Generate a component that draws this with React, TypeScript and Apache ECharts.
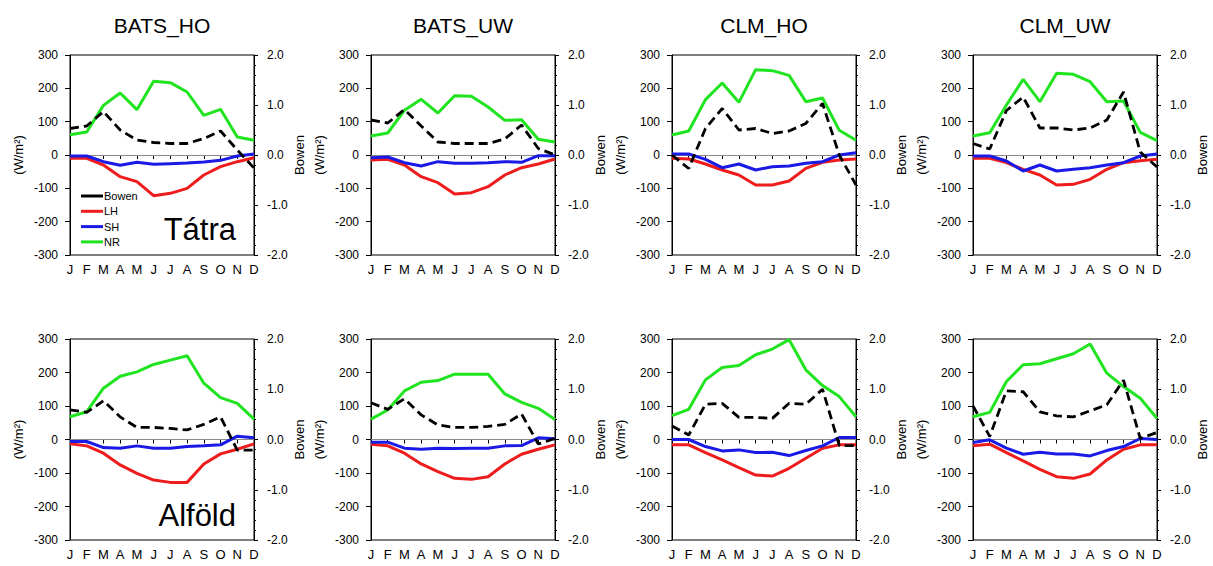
import React, { useEffect, useRef } from "react";
import * as echarts from "echarts";

const monthKeys = ["Jan", "Feb", "Mar", "Apr", "May", "Jun", "Jul", "Aug", "Sep", "Oct", "Nov", "Dec"];
const monthLabels = ["J", "F", "M", "A", "M", "J", "J", "A", "S", "O", "N", "D"];
const panelTitles = ["BATS_HO", "BATS_UW", "CLM_HO", "CLM_UW"];
const regionLabels = ["Tátra", "Alföld"];
const seriesNames = ["Bowen", "LH", "SH", "NR"];

// Tátra, BATS_HO
const tatraBatsHoNR = [61, 69, 149, 186, 136, 221, 217, 189, 119, 137, 54, 44];
const tatraBatsHoLH = [-10, -10, -30, -65, -80, -122, -115, -100, -60, -35, -20, -8];
const tatraBatsHoSH = [-3, -3, -20, -31, -22, -28, -26, -24, -21, -16, -3, 3];
const tatraBatsHoBowen = [0.53, 0.58, 0.87, 0.5, 0.3, 0.25, 0.23, 0.23, 0.33, 0.48, 0.1, -0.26];
// Tátra, BATS_UW
const tatraBatsUwNR = [57, 66, 134, 167, 126, 178, 176, 144, 104, 106, 47, 39];
const tatraBatsUwLH = [-15, -13, -30, -65, -83, -117, -113, -95, -60, -38, -27, -12];
const tatraBatsUwSH = [-8, -6, -23, -33, -20, -25, -25, -23, -20, -22, -2, -2];
const tatraBatsUwBowen = [0.7, 0.64, 0.91, 0.58, 0.26, 0.23, 0.23, 0.23, 0.32, 0.6, 0.13, 0.0];
// Tátra, CLM_HO
const tatraClmHoNR = [60, 72, 166, 216, 158, 256, 253, 239, 160, 171, 74, 44];
const tatraClmHoLH = [-10, -12, -27, -45, -60, -90, -90, -78, -40, -22, -15, -12];
const tatraClmHoSH = [3, 3, -13, -38, -27, -45, -35, -33, -25, -20, 0, 7];
const tatraClmHoBowen = [0.0, -0.27, 0.53, 0.93, 0.5, 0.53, 0.43, 0.48, 0.63, 1.03, 0.0, -0.6];
// Tátra, CLM_UW
const tatraClmUwNR = [57, 67, 150, 227, 160, 245, 242, 220, 160, 162, 68, 43];
const tatraClmUwLH = [-10, -10, -23, -43, -60, -90, -88, -73, -43, -23, -17, -13];
const tatraClmUwSH = [-3, -3, -18, -48, -30, -48, -43, -38, -30, -23, -3, 3];
const tatraClmUwBowen = [0.23, 0.12, 0.89, 1.16, 0.54, 0.54, 0.5, 0.54, 0.7, 1.26, 0.06, -0.24];
// Alföld, BATS_HO
const alfoldBatsHoNR = [68, 83, 153, 189, 202, 224, 237, 250, 168, 125, 108, 61];
const alfoldBatsHoLH = [-13, -19, -41, -76, -101, -121, -128, -128, -73, -43, -29, -13];
const alfoldBatsHoSH = [-6, -6, -24, -26, -19, -26, -26, -21, -19, -16, 10, 5];
const alfoldBatsHoBowen = [0.59, 0.54, 0.77, 0.45, 0.24, 0.24, 0.22, 0.19, 0.3, 0.45, -0.21, -0.21];
// Alföld, BATS_UW
const alfoldBatsUwNR = [61, 88, 145, 171, 176, 195, 195, 195, 136, 111, 93, 60];
const alfoldBatsUwLH = [-14, -19, -41, -73, -96, -116, -119, -111, -73, -44, -29, -16];
const alfoldBatsUwSH = [-8, -8, -26, -29, -26, -27, -26, -26, -19, -18, 5, 2];
const alfoldBatsUwBowen = [0.73, 0.6, 0.81, 0.49, 0.29, 0.24, 0.24, 0.26, 0.3, 0.51, -0.09, 0.02];
// Alföld, CLM_HO
const alfoldClmHoNR = [71, 90, 178, 215, 221, 253, 270, 298, 208, 161, 128, 68];
const alfoldClmHoLH = [-16, -16, -39, -61, -84, -106, -109, -86, -56, -26, -16, -16];
const alfoldClmHoSH = [0, 0, -21, -34, -31, -39, -38, -48, -33, -19, 6, 6];
const alfoldClmHoBowen = [0.27, 0.09, 0.7, 0.72, 0.44, 0.44, 0.42, 0.72, 0.7, 1.0, -0.12, -0.12];
// Alföld, CLM_UW
const alfoldClmUwNR = [68, 81, 173, 223, 226, 241, 256, 285, 198, 158, 123, 63];
const alfoldClmUwLH = [-19, -14, -39, -64, -89, -111, -116, -103, -61, -29, -16, -16];
const alfoldClmUwSH = [-9, -1, -26, -44, -38, -43, -43, -49, -33, -21, 3, 0];
const alfoldClmUwBowen = [0.67, 0.06, 0.97, 0.95, 0.55, 0.47, 0.45, 0.57, 0.69, 1.18, 0.02, 0.14];

const panels = [
  { nr: tatraBatsHoNR, lh: tatraBatsHoLH, sh: tatraBatsHoSH, bowen: tatraBatsHoBowen },
  { nr: tatraBatsUwNR, lh: tatraBatsUwLH, sh: tatraBatsUwSH, bowen: tatraBatsUwBowen },
  { nr: tatraClmHoNR, lh: tatraClmHoLH, sh: tatraClmHoSH, bowen: tatraClmHoBowen },
  { nr: tatraClmUwNR, lh: tatraClmUwLH, sh: tatraClmUwSH, bowen: tatraClmUwBowen },
  { nr: alfoldBatsHoNR, lh: alfoldBatsHoLH, sh: alfoldBatsHoSH, bowen: alfoldBatsHoBowen },
  { nr: alfoldBatsUwNR, lh: alfoldBatsUwLH, sh: alfoldBatsUwSH, bowen: alfoldBatsUwBowen },
  { nr: alfoldClmHoNR, lh: alfoldClmHoLH, sh: alfoldClmHoSH, bowen: alfoldClmHoBowen },
  { nr: alfoldClmUwNR, lh: alfoldClmUwLH, sh: alfoldClmUwSH, bowen: alfoldClmUwBowen },
];

const FONT = "'Liberation Sans', Arial, Helvetica, sans-serif";
const GREEN = "#1fe41f";
const RED = "#ee1c1c";
const BLUE = "#1a1ae6";
const BLACK = "#000000";

const gridLefts = [70, 371, 672, 973];
const gridTops = [55, 339];
const gridW = 184;
const gridHs = [200, 201];

export default function App() {
  const ref = useRef<HTMLDivElement>(null);

  useEffect(() => {
    document.body.style.margin = "0";
    if (!ref.current) return;
    const chart = echarts.init(ref.current, null, { renderer: "svg" });

    const grids: any[] = [];
    const xAxes: any[] = [];
    const yAxes: any[] = [];
    const series: any[] = [];

    panels.forEach((p, i) => {
      const row = Math.floor(i / 4);
      const col = i % 4;
      grids.push({
        left: gridLefts[col],
        top: gridTops[row],
        width: gridW,
        height: gridHs[row],
        show: true,
        borderColor: "#000",
        borderWidth: 1,
        backgroundColor: "transparent",
      });
      xAxes.push({
        type: "category",
        gridIndex: i,
        data: monthKeys,
        boundaryGap: false,
        axisLine: { lineStyle: { color: "#000", width: 1 } },
        axisTick: { show: true, length: 4, lineStyle: { color: "#000" } },
        axisLabel: {
          color: "#000",
          fontFamily: FONT,
          fontSize: 13,
          margin: 8,
          interval: 0,
          formatter: (_v: string, idx: number) => monthLabels[idx],
        },
        splitLine: { show: false },
      });
      yAxes.push({
        type: "value",
        gridIndex: i,
        position: "left",
        min: -300,
        max: 300,
        interval: 100,
        name: "(W/m²)",
        nameLocation: "middle",
        nameGap: 45,
        nameTextStyle: { color: "#000", fontFamily: FONT, fontSize: 13 },
        axisLine: { show: true, lineStyle: { color: "#000", width: 1 } },
        axisTick: { show: true, length: 5, lineStyle: { color: "#000" } },
        axisLabel: { color: "#000", fontFamily: FONT, fontSize: 12, margin: 12 },
        splitLine: { show: false },
      });
      yAxes.push({
        type: "value",
        gridIndex: i,
        position: "right",
        min: -2,
        max: 2,
        interval: 1,
        name: "Bowen",
        nameLocation: "middle",
        nameRotate: 90,
        nameGap: 39,
        nameTextStyle: { color: "#000", fontFamily: FONT, fontSize: 13 },
        axisLine: { show: true, lineStyle: { color: "#000", width: 1 } },
        axisTick: { show: true, length: 4, lineStyle: { color: "#000" } },
        minorTick: { show: true, splitNumber: 5, length: 2, lineStyle: { color: "#000" } },
        axisLabel: {
          color: "#000",
          fontFamily: FONT,
          fontSize: 12,
          margin: 13,
          formatter: (v: number) => v.toFixed(1),
        },
        splitLine: { show: false },
      });

      const base = {
        type: "line",
        xAxisIndex: i,
        symbol: "none",
        silent: true,
        z: 3,
      };
      series.push({
        ...base,
        name: "NR",
        yAxisIndex: 2 * i,
        data: p.nr,
        lineStyle: { color: GREEN, width: 3 },
        itemStyle: { color: GREEN },
        markLine: {
          silent: true,
          symbol: "none",
          label: { show: false },
          lineStyle: { color: "#8a8a8a", width: 1, type: "solid" },
          data: [{ yAxis: 0 }],
          z: 1,
        },
      });
      series.push({
        ...base,
        name: "LH",
        yAxisIndex: 2 * i,
        data: p.lh,
        lineStyle: { color: RED, width: 3 },
        itemStyle: { color: RED },
      });
      series.push({
        ...base,
        name: "SH",
        yAxisIndex: 2 * i,
        data: p.sh,
        lineStyle: { color: BLUE, width: 3 },
        itemStyle: { color: BLUE },
      });
      series.push({
        ...base,
        name: "Bowen",
        yAxisIndex: 2 * i + 1,
        data: p.bowen,
        lineStyle: { color: BLACK, width: 2.8, type: [9, 5] },
        itemStyle: { color: BLACK },
      });
    });

    const graphics: any[] = [];
    panelTitles.forEach((t, c) => {
      graphics.push({
        type: "text",
        x: gridLefts[c] + gridW / 2,
        y: 25,
        style: {
          text: t,
          fill: "#000",
          font: `21px ${FONT}`,
          textAlign: "center",
          textVerticalAlign: "middle",
        },
      });
    });
    graphics.push({
      type: "text",
      x: 236,
      y: 229,
      style: {
        text: regionLabels[0],
        fill: "#000",
        font: `31px ${FONT}`,
        textAlign: "right",
        textVerticalAlign: "middle",
      },
    });
    graphics.push({
      type: "text",
      x: 236,
      y: 515,
      style: {
        text: regionLabels[1],
        fill: "#000",
        font: `31px ${FONT}`,
        textAlign: "right",
        textVerticalAlign: "middle",
      },
    });

    chart.setOption({
      animation: false,
      backgroundColor: "#ffffff",
      grid: grids,
      xAxis: xAxes,
      yAxis: yAxes,
      series,
      legend: {
        orient: "vertical",
        left: 76,
        top: 185,
        icon: "rect",
        itemWidth: 22,
        itemHeight: 3,
        itemGap: 3.3,
        selectedMode: false,
        textStyle: { color: "#000", fontFamily: FONT, fontSize: 11, lineHeight: 12, padding: [0, 0, 0, -4] },
        data: seriesNames.map((n) => ({ name: n })),
      },
      graphic: graphics,
    });

    return () => {
      chart.dispose();
    };
  }, []);

  return <div ref={ref} style={{ width: 1213, height: 566 }} />;
}
